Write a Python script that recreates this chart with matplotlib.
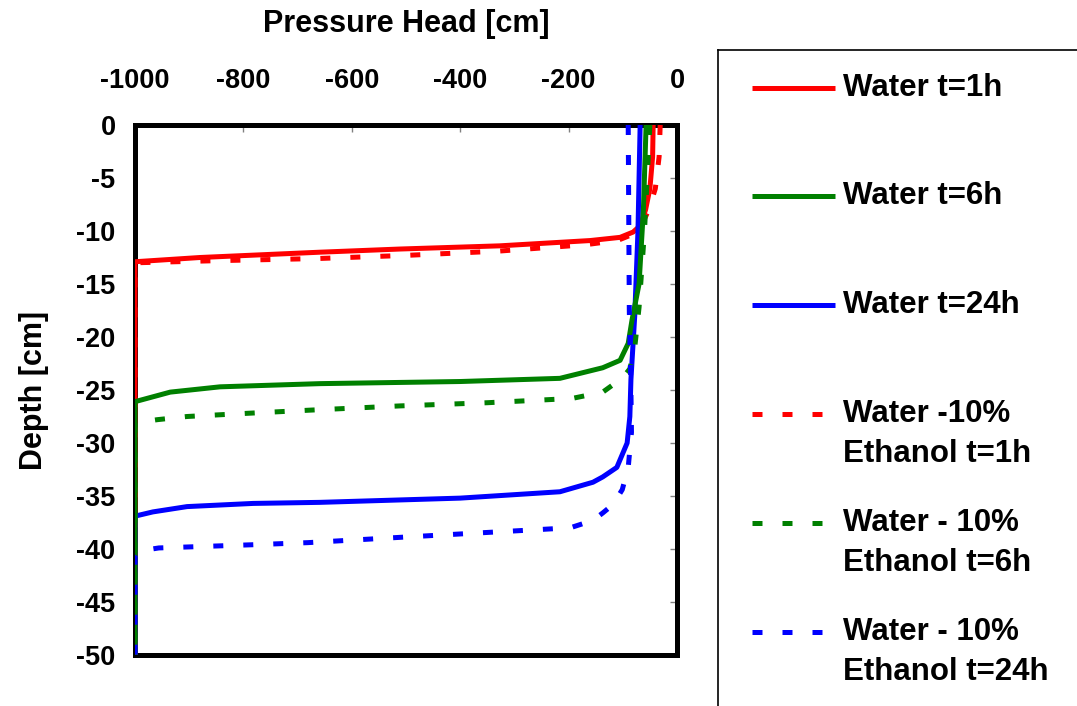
import matplotlib
matplotlib.use('Agg')
import matplotlib.pyplot as plt

plt.rcParams['font.family'] = ['Liberation Sans', 'DejaVu Sans']
plt.rcParams['font.weight'] = 'bold'

# pressure head [cm] and depth [cm]
water_1h_head = [-44, -45, -50, -58, -68, -81, -105, -160, -327, -511, -659, -880, -1000, -1000]
water_1h_depth = [0, -3, -6, -8, -9.5, -10.1, -10.6, -10.9, -11.4, -11.7, -12.0, -12.5, -12.9, -50]

eth_1h_head = [-31, -33, -40, -52, -66, -81, -110, -170, -330, -500, -664, -850, -1000, -1000]
eth_1h_depth = [0, -3, -6, -8, -9.5, -10.3, -10.9, -11.3, -11.9, -12.3, -12.6, -12.8, -13.0, -50]

water_6h_head = [-57, -62, -70, -83, -90, -105, -137, -216, -400, -659, -843, -935, -1000, -1000]
water_6h_depth = [0, -8, -15, -18.4, -20.6, -22.2, -22.9, -23.9, -24.2, -24.4, -24.7, -25.2, -26.1, -50]

eth_6h_head = [-50, -60, -70, -78, -87, -101, -118, -137, -194, -350, -511, -677, -793, -904, -959, -1000, -1000]
eth_6h_depth = [0, -10, -17.2, -21, -23, -23.9, -24.5, -25.2, -25.8, -26.2, -26.5, -26.9, -27.2, -27.5, -27.8, -28.1, -50]

water_24h_head = [-68, -72, -78, -85, -87, -92, -111, -137, -155, -216, -400, -659, -782, -904, -967, -1000, -1000]
water_24h_depth = [0, -10, -18, -24, -27.5, -30, -32.3, -33.2, -33.7, -34.6, -35.2, -35.6, -35.7, -36.0, -36.5, -36.9, -50]

eth_24h_head = [-90, -88, -85, -84, -90, -101, -118, -137, -155, -197, -511, -681, -784, -898, -956, -994, -1000, -1000]
eth_24h_depth = [0, -17.5, -25, -29, -32.3, -34.4, -35.8, -36.6, -37.3, -38.0, -38.9, -39.4, -39.6, -39.8, -39.9, -40.2, -40.6, -50]

x_ticks = [-1000, -800, -600, -400, -200, 0]
y_ticks = [0, -5, -10, -15, -20, -25, -30, -35, -40, -45, -50]

legend_labels = ['Water t=1h', 'Water t=6h', 'Water t=24h',
                 'Water -10%\nEthanol t=1h', 'Water - 10%\nEthanol t=6h',
                 'Water - 10%\nEthanol t=24h']
legend_colors = ['#FF0000', '#008000', '#0000FF', '#FF0000', '#008000', '#0000FF']
legend_dashed = [False, False, False, True, True, True]

W, H = 1077, 706
fig = plt.figure(figsize=(W / 100, H / 100), dpi=100)
ax = fig.add_axes([135 / W, 1 - 655 / H, (677 - 135) / W, (655 - 125) / H])

lw = 3.6
dash = (0, (2, 4))
ax.plot(water_1h_head, water_1h_depth, color='#FF0000', lw=lw, zorder=3)
ax.plot(eth_1h_head, eth_1h_depth, color='#FF0000', lw=lw, ls=dash, zorder=3)
ax.plot(water_24h_head, water_24h_depth, color='#0000FF', lw=lw, zorder=3)
ax.plot(water_6h_head, water_6h_depth, color='#008000', lw=lw, zorder=3)
ax.plot(eth_6h_head, eth_6h_depth, color='#008000', lw=lw, ls=dash, zorder=3)
ax.plot(eth_24h_head, eth_24h_depth, color='#0000FF', lw=lw, ls=dash, zorder=3)

ax.set_xlim(-1000, 0)
ax.set_ylim(-50, 0)
ax.set_xticks(x_ticks)
ax.set_yticks(y_ticks)
ax.set_xticklabels([str(v) for v in x_ticks])
ax.set_yticklabels([str(v) for v in y_ticks])

ax.xaxis.set_ticks_position('top')
ax.xaxis.set_label_position('top')
ax.tick_params(axis='x', direction='in', length=5, width=1, color='#808080',
               labelsize=19.5, pad=22)
ax.tick_params(axis='y', direction='in', left=False, right=True, labelleft=True,
               length=5, width=1, color='#808080', labelsize=19.5, pad=14)
for lab in ax.get_xticklabels() + ax.get_yticklabels():
    lab.set_fontweight('bold')

for s in ax.spines.values():
    s.set_linewidth(3.6)
    s.set_color('black')

ax.set_xlabel('Pressure Head [cm]', fontsize=22, fontweight='bold', labelpad=26)
ax.set_ylabel('Depth [cm]', fontsize=22, fontweight='bold', labelpad=20)

# legend box drawn in pixel coordinates
lg = fig.add_axes([718 / W, 0, 1 - 718 / W, 1 - 50 / H])
lg.set_xlim(718, W)
lg.set_ylim(H, 50)
lg.set_xticks([])
lg.set_yticks([])
lg.patch.set_alpha(0)
lg.spines['right'].set_visible(False)
lg.spines['bottom'].set_visible(False)
lg.spines['left'].set_linewidth(1.2)
lg.spines['top'].set_linewidth(1.2)

entry_y = [88, 196, 305, 414, 523, 632]
for lab, col, dashed, y in zip(legend_labels, legend_colors, legend_dashed, entry_y):
    lg.plot([752, 835], [y, y], color=col, lw=lw, ls=dash if dashed else '-',
            solid_capstyle='butt', dash_capstyle='butt')
    for i, line in enumerate(lab.split('\n')):
        lg.text(843, y + 40 * i, line, fontsize=22.5, fontweight='bold',
                va='center', ha='left')

fig.savefig('out.png', dpi=100)
